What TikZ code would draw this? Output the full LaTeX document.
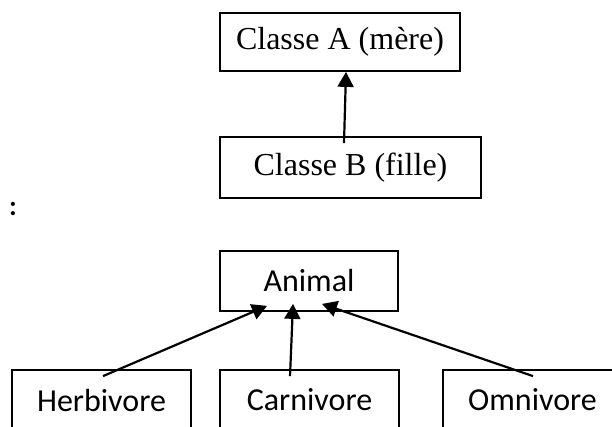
\documentclass[tikz,border=0pt]{standalone}
\usepackage{fontspec}
\setmainfont{Liberation Serif}
\newfontfamily\calibri{Carlito}
\usetikzlibrary{positioning}
\usetikzlibrary{arrows.meta}
\usetikzlibrary{calc}

\begin{document}
\begin{tikzpicture}[
  x=1pt, y=-1pt,
  box/.style={draw, line width=1.8pt, inner sep=0pt, minimum height=60pt},
  serifbox/.style={box, font=\fontsize{32}{36}\selectfont},
  sansbox/.style={box, font=\calibri\fontsize{32}{36}\selectfont, minimum width=179pt},
  link/.style={line width=2.2pt, -{Triangle[length=15pt,width=16pt]}}
]
\useasboundingbox (0,0) rectangle (612,427);
\clip (0,0) rectangle (612,427);

% Upper scheme: parent and child class
\node[serifbox, minimum width=240pt, minimum height=58pt] (classA) at (340,42) {Classe A (mère)};
\node[serifbox, minimum width=261pt, minimum height=61pt] (classB) at (350.5,167.5) {Classe B (fille)};

% Caption colon on the left edge
\node[font=\calibri\bfseries\fontsize{28}{32}\selectfont, anchor=base east, inner sep=0pt] (caption) at (17,216) {:};

% Lower scheme: Animal and its subclasses
\node[sansbox, minimum width=178pt] (animal) at (309,281) {Animal};
\node[sansbox] (herbi) at (101.5,400) {Herbivore};
\node[sansbox] (carni) at (309.5,400) {Carnivore};
\node[sansbox] (omni) at (532.5,400) {Omnivore};

% Arrow end points
\coordinate (bTail) at ($(classB.north)+(-6.5,7)$);
\coordinate (aTip) at ($(classA.south)+(6,0)$);
\coordinate (hTail) at ($(herbi.north)+(1.5,7)$);
\coordinate (cTail) at ($(carni.north)+(-19.5,7)$);
\coordinate (oTail) at ($(omni.north)+(0.5,7)$);
\coordinate (tipL) at ($(animal.south)+(-42,-6)$);
\coordinate (tipM) at ($(animal.south)+(-16,-8)$);
\coordinate (tipR) at ($(animal.south)+(13,-8)$);

\draw[link] (bTail) -- (aTip);
\draw[link] (hTail) -- (tipL);
\draw[link] (cTail) -- (tipM);
\draw[link] (oTail) -- (tipR);

\end{tikzpicture}
\end{document}
